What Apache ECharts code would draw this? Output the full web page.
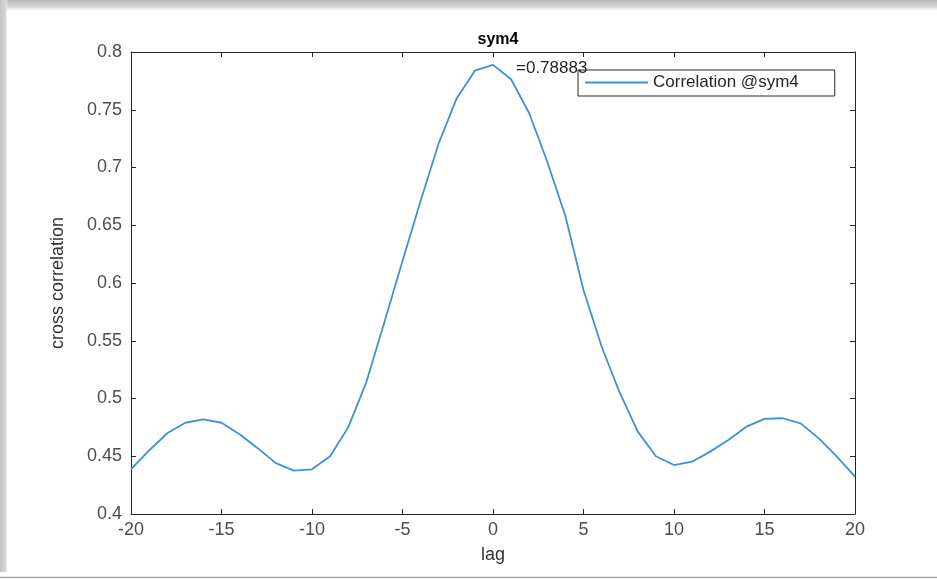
<!DOCTYPE html>
<html>
<head>
<meta charset="utf-8">
<script src="https://cdn.jsdelivr.net/npm/echarts@6/dist/echarts.min.js"></script>
<style>
html,body{margin:0;padding:0;background:#fff;}
#c{width:937px;height:579px;}
</style>
</head>
<body>
<div id="c"></div>
<script>
const lags = [-20,-19,-18,-17,-16,-15,-14,-13,-12,-11,-10,-9,-8,-7,-6,-5,-4,-3,-2,-1,0,1,2,3,4,5,6,7,8,9,10,11,12,13,14,15,16,17,18,19,20];
const corr = [0.4387,0.455,0.4699,0.479,0.482,0.479,0.469,0.457,0.444,0.4375,0.4387,0.450,0.475,0.514,0.566,0.619,0.671,0.721,0.760,0.7838,0.78883,0.7764,0.747,0.705,0.658,0.594,0.545,0.505,0.4713,0.450,0.4424,0.4453,0.454,0.464,0.4756,0.4823,0.4829,0.4785,0.4655,0.4496,0.4323];
const seriesName = 'Correlation @sym4';
const titleText = 'sym4';
const xName = 'lag';
const yName = 'cross correlation';
const peakLag = 0, peakVal = 0.78883;

const chart = echarts.init(document.getElementById('c'));
const font = 'Liberation Sans, Arial, sans-serif';
const axisCol = '#262626';
const lblCol = '#4d4d4d';
chart.setOption({
  backgroundColor: '#fff',
  animation: false,
  title: {
    text: titleText, left: 493, top: 27, textAlign: 'center',
    textStyle: {fontFamily: font, fontSize: 16, fontWeight: 'bold', color: '#000'}
  },
  legend: {
    data: [seriesName], left: 578, top: 70,
    backgroundColor: '#fff', borderColor: axisCol, borderWidth: 1,
    padding: [4, 36, 5, 7], itemWidth: 63, itemHeight: 2, icon: 'rect',
    textStyle: {fontFamily: font, fontSize: 17, color: '#262626'}
  },
  grid: {left: 131, right: 82, top: 52, bottom: 65},
  xAxis: [{
    type: 'value', min: -20, max: 20, interval: 5,
    name: xName, nameLocation: 'middle', nameGap: 32,
    nameTextStyle: {fontFamily: font, fontSize: 18, color: '#333'},
    axisLine: {show: true, onZero: false, lineStyle: {color: axisCol, width: 1}},
    axisTick: {show: true, inside: true, length: 5, lineStyle: {color: axisCol}},
    axisLabel: {fontFamily: font, fontSize: 18, color: lblCol, margin: 7},
    splitLine: {show: false}
  }, {
    type: 'value', position: 'top', min: -20, max: 20, interval: 5,
    axisLine: {show: true, onZero: false, lineStyle: {color: axisCol, width: 1}},
    axisTick: {show: true, inside: true, length: 5, lineStyle: {color: axisCol}},
    axisLabel: {show: false}, splitLine: {show: false}
  }],
  yAxis: [{
    type: 'value', min: 0.4, max: 0.8, interval: 0.05,
    name: yName, nameLocation: 'middle', nameGap: 64, nameRotate: 90,
    nameTextStyle: {fontFamily: font, fontSize: 18, color: '#333'},
    axisLine: {show: true, onZero: false, lineStyle: {color: axisCol, width: 1}},
    axisTick: {show: true, inside: true, length: 5, lineStyle: {color: axisCol}},
    axisLabel: {fontFamily: font, fontSize: 18, color: lblCol, margin: 9,
      formatter: v => String(+v.toFixed(2))},
    splitLine: {show: false}
  }, {
    type: 'value', position: 'right', min: 0.4, max: 0.8, interval: 0.05,
    axisLine: {show: true, onZero: false, lineStyle: {color: axisCol, width: 1}},
    axisTick: {show: true, inside: true, length: 5, lineStyle: {color: axisCol}},
    axisLabel: {show: false}, splitLine: {show: false}
  }],
  series: [{
    name: seriesName, type: 'line',
    data: lags.map((l, i) => [l, corr[i]]),
    showSymbol: false, symbol: 'none',
    lineStyle: {color: '#3a93d6', width: 1.8},
    itemStyle: {color: '#3a93d6'},
    markPoint: {
      symbol: 'circle', symbolSize: 0,
      data: [{coord: [peakLag, peakVal], value: peakVal}],
      label: {show: true, position: 'right', offset: [18, 3],
        formatter: p => '=' + p.value,
        fontFamily: font, fontSize: 17, color: '#262626'}
    }
  }],
  graphic: [
    {type: 'rect', left: 0, top: 0, z: 100, silent: true,
     shape: {width: 937, height: 12},
     style: {fill: new echarts.graphic.LinearGradient(0, 0, 0, 1, [
       {offset: 0, color: '#b8b8b8'}, {offset: 0.6, color: '#d8d8d8'}, {offset: 1, color: 'rgba(255,255,255,0)'}])}},
    {type: 'rect', left: 0, top: 0, z: 100, silent: true,
     shape: {width: 8, height: 572},
     style: {fill: new echarts.graphic.LinearGradient(0, 0, 1, 0, [
       {offset: 0, color: '#c4c4c4'}, {offset: 0.7, color: '#d6d6d6'}, {offset: 1, color: 'rgba(255,255,255,0)'}])}},
    {type: 'line', z: 100, silent: true,
     shape: {x1: 0, y1: 577.5, x2: 937, y2: 577.5},
     style: {stroke: '#a8a8a8', lineWidth: 1.5}}
  ]
});
</script>
</body>
</html>
